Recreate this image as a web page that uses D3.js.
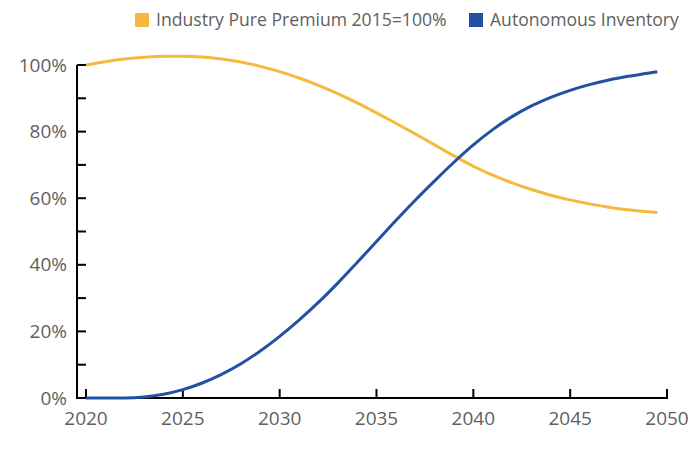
<!DOCTYPE html>
<html>
<head>
<meta charset="utf-8">
<script src="https://cdn.jsdelivr.net/npm/d3@7"></script>
<style>
  body { margin: 0; background: #fff; }
  text { font-family: "Open Sans", sans-serif; fill: #5f5f5f; }
</style>
</head>
<body>
<script>
const years = [2020, 2021, 2022, 2023, 2024, 2025, 2026, 2027, 2028, 2029,
  2030, 2031, 2032, 2033, 2034, 2035, 2036, 2037, 2038, 2039,
  2040, 2041, 2042, 2043, 2044, 2045, 2046, 2047, 2048, 2049, 2049.5];

const premium = [100, 101, 101.8, 102.3, 102.6, 102.6, 102.4, 101.8, 100.9, 99.6,
  98.0, 96.1, 93.9, 91.4, 88.6, 85.6, 82.5, 79.3, 76.0, 72.7,
  69.6, 66.9, 64.6, 62.6, 60.9, 59.5, 58.3, 57.3, 56.5, 55.9, 55.7];

const autonomous = [0, 0, 0, 0.3, 1.1, 2.5, 4.5, 7.1, 10.3, 14.1,
  18.5, 23.4, 28.7, 34.5, 40.7, 47.0, 53.3, 59.4, 65.2, 70.8,
  76.0, 80.6, 84.5, 87.7, 90.3, 92.4, 94.1, 95.5, 96.6, 97.5, 98.0];

const xTicks = [2020, 2025, 2030, 2035, 2040, 2045, 2050];
const yTicks = [0, 20, 40, 60, 80, 100];
const yMinor = [10, 30, 50, 70, 90];

const series = [
  { name: "Industry Pure Premium 2015=100%", values: premium, color: "#F6B940" },
  { name: "Autonomous Inventory", values: autonomous, color: "#2251A1" }
];

const width = 700, height = 449;
const axisX = 77, axisY = 398;

const svg = d3.select("body").append("svg")
  .attr("width", width)
  .attr("height", height);

const x = d3.scaleLinear().domain([2020, 2050]).range([86, 667]);
const y = d3.scaleLinear().domain([0, 100]).range([axisY, 65]);

// axes
svg.append("line")
  .attr("x1", axisX).attr("x2", axisX)
  .attr("y1", y(100)).attr("y2", axisY)
  .attr("stroke", "#000").attr("stroke-width", 2);
svg.append("line")
  .attr("x1", axisX - 1).attr("x2", x(2050) + 1)
  .attr("y1", axisY).attr("y2", axisY)
  .attr("stroke", "#000").attr("stroke-width", 2);

svg.selectAll(".ytick")
  .data(yTicks.concat(yMinor))
  .join("line")
  .attr("x1", axisX).attr("x2", axisX + 9)
  .attr("y1", d => y(d)).attr("y2", d => y(d))
  .attr("stroke", "#000").attr("stroke-width", 2);

svg.selectAll(".ylabel")
  .data(yTicks)
  .join("text")
  .attr("x", 67)
  .attr("y", d => y(d))
  .attr("dy", "0.35em")
  .attr("text-anchor", "end")
  .style("font-size", "19px")
  .text(d => d + "%");

svg.selectAll(".xtick")
  .data(xTicks)
  .join("line")
  .attr("x1", d => x(d)).attr("x2", d => x(d))
  .attr("y1", axisY).attr("y2", axisY - 9)
  .attr("stroke", "#000").attr("stroke-width", 2);

svg.selectAll(".xlabel")
  .data(xTicks)
  .join("text")
  .attr("x", d => x(d))
  .attr("y", 418)
  .attr("dy", "0.35em")
  .attr("text-anchor", "middle")
  .style("font-size", "19px")
  .text(d => d);

// lines
const line = d3.line()
  .x((d, i) => x(years[i]))
  .y(d => y(d))
  .curve(d3.curveMonotoneX);

svg.selectAll(".series")
  .data(series)
  .join("path")
  .attr("fill", "none")
  .attr("stroke", d => d.color)
  .attr("stroke-width", 3)
  .attr("d", d => line(d.values));

// legend
const legendX = [135, 469];
const legend = svg.selectAll(".legend")
  .data(series)
  .join("g")
  .attr("transform", (d, i) => `translate(${legendX[i]},13)`);

legend.append("rect")
  .attr("width", 14).attr("height", 14)
  .attr("fill", d => d.color);

legend.append("text")
  .attr("x", 21)
  .attr("y", 7)
  .attr("dy", "0.35em")
  .style("font-size", "17.6px")
  .text(d => d.name);
</script>
</body>
</html>
